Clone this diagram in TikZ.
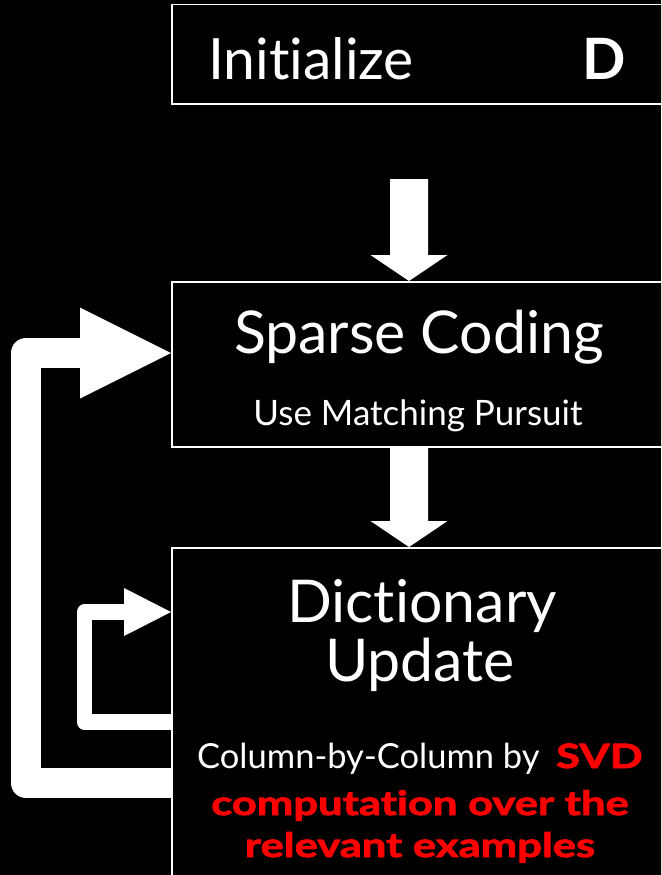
\documentclass[tikz,border=0pt]{standalone}
\usepackage{fontspec}
\setmainfont{Lato}[Ligatures=NoCommon]
\newfontfamily\heavyfont{Lato}[Ligatures=NoCommon, UprightFont=*-Bold, BoldFont=*-Bold, FakeStretch=1.3, FakeBold=2.5]
\usetikzlibrary{calc}
\definecolor{hot}{RGB}{255,0,0}
\tikzset{
  box/.style={draw=white, line width=1.5pt, fill=black, anchor=north west, inner sep=0pt, minimum width=540pt},
  txt/.style={text=white, inner sep=0pt, anchor=base},
  big/.style={txt, font=\fontsize{59}{62}\selectfont},
  mid/.style={txt, font=\fontsize{35}{40}\selectfont},
  small/.style={txt, font=\fontsize{34.5}{38}\selectfont},
  redb/.style={txt, text=hot, font=\fontsize{33.5}{38}\heavyfont},
  blockarrow/.style={fill=white, draw=none},
}
\begin{document}
\begin{tikzpicture}[x=1pt,y=-1pt]
\useasboundingbox (0,0) rectangle (661,875);
\clip (0,0) rectangle (661,875);
\fill[black] (0,0) rectangle (661,875);

% boxes
\node[box, minimum height=99pt] (init) at (171,4) {};
\node[box, minimum height=165pt] (sparse) at (171,281) {};
\node[box, minimum height=360pt] (dict) at (171,547) {};

% texts
\node[txt, font=\fontsize{57}{60}\selectfont] (tinit) at (311,80) {Initialize};
\node[txt, font=\fontsize{57}{60}\selectfont\bfseries] (td) at (604,80) {D};
\node[big] (tsparse) at (419,353) {Sparse Coding};
\node[mid] (tmp) at (418,425) {Use Matching Pursuit};
\node[big] (tdict) at (422,622) {Dictionary};
\node[big] (tupd) at (420,681) {Update};
\node[small, anchor=base west] (tcol) at (197,768) {Column-by-Column by};
\node[redb, anchor=base east] (tsvd) at (643,768) {SVD};
\node[redb] (tcomp) at (420,815) {computation over the};
\node[redb] (trel) at (420,857) {relevant examples};

% down arrow 1: init -> sparse
\coordinate (a1s) at (409,179);
\coordinate (a1t) at (sparse.north -| a1s);
\fill[blockarrow] ($(a1s)+(-19,0)$) -- ($(a1s)+(19,0)$) -- ($(a1t)+(19,-26)$) -- ($(a1t)+(38.5,-26)$)
  -- (a1t) -- ($(a1t)+(-38.5,-26)$) -- ($(a1t)+(-19,-26)$) -- cycle;

% down arrow 2: sparse -> dict
\coordinate (a2s) at (sparse.south -| a1s);
\coordinate (a2t) at (dict.north -| a1s);
\fill[blockarrow] ($(a2s)+(-19,0)$) -- ($(a2s)+(19,0)$) -- ($(a2t)+(19,-26)$) -- ($(a2t)+(38.5,-26)$)
  -- (a2t) -- ($(a2t)+(-38.5,-26)$) -- ($(a2t)+(-19,-26)$) -- cycle;

% big loop: dict -> sparse
\coordinate (b1s) at (dict.west |- 0,783);
\coordinate (b1t) at (sparse.west |- 0,353);
\draw[white, line width=30pt, line join=round] (b1s) -- (26,783) -- (26,353) -- ($(b1t)+(-85,0)$);
\fill[blockarrow] ($(b1t)+(-91,-45.5)$) -- (b1t) -- ($(b1t)+(-91,45.5)$) -- cycle;

% small loop: dict -> dict
\coordinate (c1s) at (dict.west |- 0,722);
\coordinate (c1t) at (dict.west |- 0,612);
\draw[white, line width=15.5pt, line join=round] (c1s) -- (84.5,722) -- (84.5,612) -- ($(c1t)+(-44,0)$);
\fill[blockarrow] ($(c1t)+(-47,-24)$) -- (c1t) -- ($(c1t)+(-47,24)$) -- cycle;
\end{tikzpicture}
\end{document}
